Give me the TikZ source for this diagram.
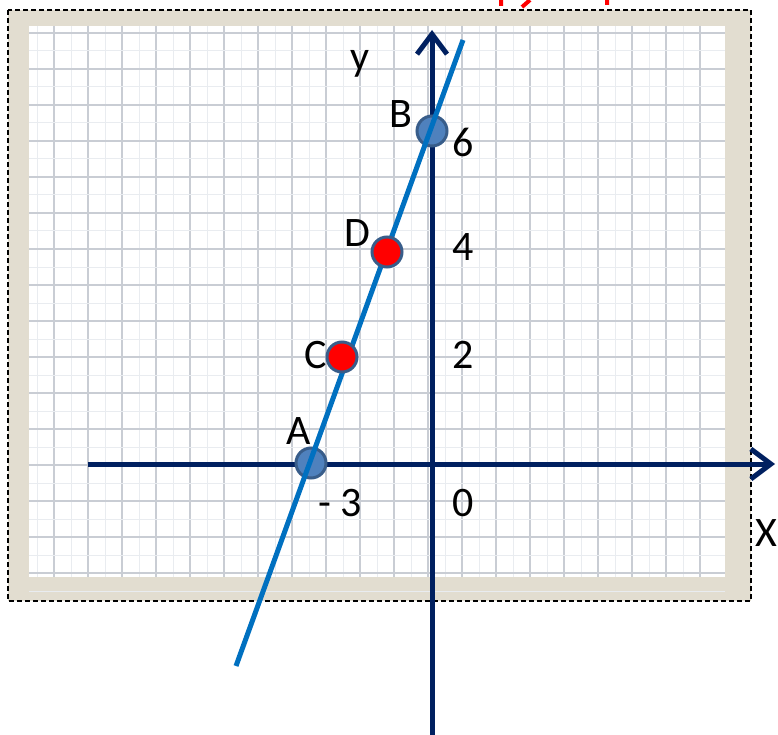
\documentclass[tikz,border=0pt]{standalone}
\usepackage{fontspec}
\setmainfont{Carlito}
\usepackage{xcolor}
\usetikzlibrary{arrows.meta}

\definecolor{frame}{HTML}{E2DDD0}
\definecolor{gridmajor}{HTML}{C9CDD4}
\definecolor{gridminor}{HTML}{E9ECF0}
\definecolor{axisblue}{HTML}{002060}
\definecolor{lineblue}{HTML}{0070C0}
\definecolor{dotblue}{HTML}{4F81BD}
\definecolor{dotedge}{HTML}{385D8A}

\begin{document}
\begin{tikzpicture}[
  x=1pt, y=-1pt,
  lbl/.style={font=\fontsize{42}{46}\selectfont, inner sep=0pt},
  axis/.style={draw=axisblue, line width=5pt,
               -{Straight Barb[length=20pt, width=30pt, line width=5pt]}},
  dot/.style={circle, draw=dotedge, line width=3pt, minimum size=30pt,
              inner sep=0pt},
]
\useasboundingbox (0,0) rectangle (778,735);

% paper and grid
\draw[fill=frame, line width=1.5pt, dash pattern=on 5pt off 3pt]
  (8,10) rectangle (751,601);
\fill[white] (29,26) rectangle (725,577);
\foreach \i in {0,...,19} {
  \draw[gridminor, line width=1pt] ({37+34*\i},26) -- ({37+34*\i},577);
  \draw[gridmajor, line width=1.2pt] ({54+34*\i},26) -- ({54+34*\i},577);
}
\foreach \j in {0,...,15} {
  \draw[gridminor, line width=1pt] (29,{51+36*\j}) -- (725,{51+36*\j});
  \draw[gridmajor, line width=1.2pt] (29,{33+36*\j}) -- (725,{33+36*\j});
}

% cut-off red title
\draw[red, line width=4pt] (501,0) -- (501,6) (530,0) -- (522,7) (607,0) -- (607,5);

% axes
\coordinate (xs) at (88,464);
\coordinate (xe) at (775,464);
\coordinate (ys) at (432,735);
\coordinate (ye) at (432,30);
\draw[axis] (xs) -- (xe);
\draw[axis] (ys) -- (ye);

% points on the line
\node[dot, fill=dotblue] (A) at (311,463) {};
\node[dot, fill=dotblue] (B) at (432,131) {};

\coordinate (lo) at (236,666);
\coordinate (hi) at (463,40);
\draw[lineblue, line width=5pt] (lo) -- (hi);

\node[dot, fill=red] (C) at (342,357) {};
\node[dot, fill=red] (D) at (387,252) {};

% labels
\node[lbl] (la) at (299,431) {A};
\node[lbl] (lb) at (401,114) {B};
\node[lbl] (lc) at (316,355) {C};
\node[lbl] (ld) at (357,233) {D};
\node[lbl] (l6) at (463,142) {6};
\node[lbl] (l4) at (463,247) {4};
\node[lbl] (l2) at (463,355) {2};
\node[lbl] (l0) at (463,503) {0};
\node[lbl] (lm3) at (340,503) {- 3};
\node[lbl] (ly) at (360,64) {y};
\node[lbl] (lx) at (766,533) {X};

\end{tikzpicture}
\end{document}
